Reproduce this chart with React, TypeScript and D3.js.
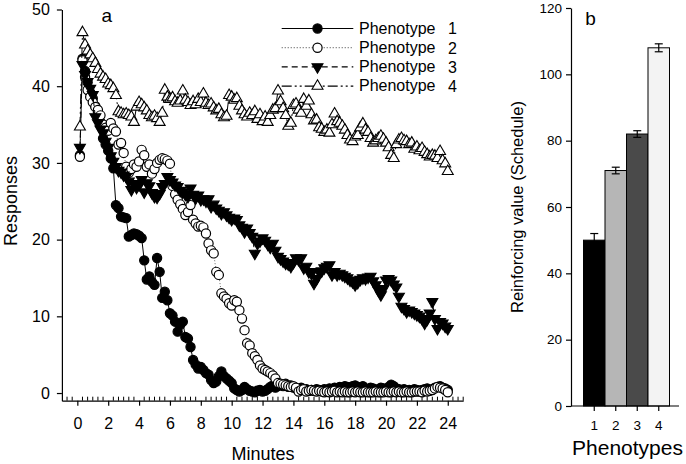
import React, { useEffect, useRef } from "react";
import * as d3 from "d3";

// responses per 10-s bin (first bin ends at 1/6 min, last at 24 min)
const binMinutes = 1 / 6;

const phenotype1 = [
  31.0, 43.6, 42.0, 40.5, 39.2, 38.4,
  37.4, 36.6, 35.3, 33.2, 32.4, 31.6,
  30.6, 29.3, 24.5, 24.1, 23.0, 22.9,
  22.8, 20.4, 20.6, 20.8, 20.7, 20.5,
  20.2, 17.3, 14.8, 15.2, 14.5, 14.1,
  17.6, 15.8, 12.4, 13.2, 12.1, 10.4,
  10.1, 9.3, 8.0, 8.9, 9.3, 7.3,
  7.1, 6.0, 4.3, 3.7, 3.2, 3.4,
  3.0, 2.6, 2.4, 1.7, 1.3, 1.5,
  2.2, 2.8, 2.2, 1.9, 1.6, 1.3,
  0.6, 0.4, 0.2, 0.4, 0.8, 0.5,
  0.3, 0.2, 0.1, 0.3, 0.4, 0.2,
  0.3, 0.5, 0.8, 1.0, 0.7, 0.9,
  1.1, 0.9, 1.2, 0.8, 1.0, 0.7,
  0.6, 0.5, 0.7, 0.4, 0.5, 0.3,
  0.4, 0.3, 0.5, 0.4, 0.3, 0.5,
  0.4, 0.6, 0.5, 0.7, 0.6, 0.8,
  0.7, 0.9, 0.8, 0.6, 0.9, 1.0,
  0.8, 0.7, 0.9, 0.6, 0.5, 0.7,
  0.6, 0.4, 0.5, 0.7, 0.6, 0.5,
  0.8, 1.1, 0.9, 0.6, 0.5, 0.4,
  0.5, 0.3, 0.4, 0.3, 0.5, 0.4,
  0.3, 0.4, 0.5, 0.6, 0.4, 0.5,
  0.7, 0.8, 0.9, 0.7, 0.6, 0.4,
];

const phenotype2 = [
  30.8, 43.4, 41.2, 39.5, 38.6, 37.9,
  37.3, 36.9, 36.2, 35.0, 34.6, 34.2,
  35.2, 34.5, 34.1, 32.4, 32.6, 31.3,
  29.5, 28.7, 29.2, 29.8, 29.5, 30.2,
  31.7, 31.0, 29.5, 29.8, 28.6, 29.2,
  30.0, 30.4, 30.6, 30.5, 30.3, 29.9,
  27.0, 25.9, 25.2, 24.6, 24.0, 23.2,
  23.6, 24.5, 22.6, 22.1, 21.7, 21.8,
  21.6, 20.8, 19.5, 18.6, 18.2, 15.8,
  15.4, 13.0, 12.6, 12.3, 11.7, 11.4,
  12.1, 11.9, 10.8, 9.7, 8.2, 6.5,
  6.2, 5.2, 4.8, 4.3, 3.6, 3.2,
  3.0, 2.8, 2.6, 2.3, 1.9, 1.3,
  1.2, 1.1, 1.0, 0.9, 0.8, 0.9,
  0.7, 0.2, 0.4, 0.5, 0.2, 0.3,
  0.4, 0.3, 0.2, 0.3, 0.2, 0.1,
  0.2, 0.1, 0.2, 0.3, 0.1, 0.2,
  0.1, 0.2, 0.1, 0.1, 0.2, 0.1,
  0.2, 0.1, 0.1, 0.2, 0.1, 0.1,
  0.1, 0.2, 0.1, 0.1, 0.1, 0.2,
  0.1, 0.1, 0.2, 0.1, 0.2, 0.1,
  0.1, 0.2, 0.1, 0.1, 0.2, 0.2,
  0.2, 0.1, 0.3, 0.2, 0.3, 0.4,
  0.6, 0.8, 0.7, 0.6, 0.4, 0.1,
];

const phenotype3 = [
  32.0, 42.8, 41.5, 40.6, 39.7, 38.9,
  36.0, 35.2, 34.4, 33.9, 32.8, 32.0,
  30.9, 30.2, 29.5, 29.0, 28.8, 28.4,
  28.2, 27.6, 26.5, 27.3, 26.8, 27.1,
  27.8, 26.2, 27.4, 27.0, 26.1, 25.6,
  25.5, 26.0, 26.9, 27.3, 28.2, 27.8,
  27.5, 27.1, 26.9, 26.4, 26.2, 25.9,
  25.6, 26.7, 25.9, 25.4, 25.8, 25.2,
  25.3, 25.0, 25.3, 24.3, 24.6, 24.1,
  23.8, 23.4, 23.6, 23.2, 22.9, 22.6,
  22.8, 22.6, 21.9, 21.6, 21.0, 21.5,
  20.9, 20.4, 18.2, 19.5, 19.8, 20.2,
  19.9, 19.4, 19.0, 19.5, 18.6, 17.8,
  17.5, 17.2, 16.9, 16.8, 16.5, 17.0,
  17.6, 17.4, 17.6, 16.3, 16.5, 15.8,
  15.6, 14.3, 14.9, 15.8, 15.9, 16.3,
  16.5, 16.7, 15.4, 15.8, 15.4, 15.6,
  15.4, 15.2, 15.0, 14.7, 14.5, 14.1,
  14.4, 14.8, 15.0, 14.9, 15.1, 15.2,
  14.6, 14.1, 13.4, 12.8, 13.6, 14.7,
  14.9, 14.7, 14.2, 13.8, 12.6, 11.3,
  11.0, 10.6, 10.8, 10.6, 10.4, 10.2,
  10.0, 9.7, 9.1, 9.6, 10.4, 11.9,
  9.7, 8.4, 9.3, 9.1, 8.7, 8.4,
];

const phenotype4 = [
  34.7, 47.0, 45.4, 44.6, 44.1, 43.6,
  43.0, 42.2, 41.6, 41.2, 40.9, 40.3,
  40.1, 39.7, 38.8, 36.7, 36.5, 36.3,
  36.4, 36.2, 36.0, 35.3, 37.3, 37.9,
  37.6, 37.2, 36.8, 36.2, 35.9, 36.1,
  35.8, 35.3, 36.5, 39.5, 38.6, 38.3,
  38.5, 38.0, 37.8, 38.1, 39.4, 38.2,
  37.9, 37.5, 38.0, 37.6, 38.3, 37.9,
  39.0, 37.8, 37.5, 37.7, 37.2, 36.8,
  37.0, 36.3, 35.9, 36.1, 38.8, 38.6,
  38.2, 38.4, 37.4, 36.8, 36.3, 36.0,
  36.5, 36.2, 36.7, 35.7, 36.3, 35.4,
  36.0, 35.3, 36.2, 36.9, 37.1, 39.4,
  38.0, 37.1, 36.2, 34.8, 35.2, 37.5,
  37.7, 36.9, 36.5, 38.3, 37.4, 38.1,
  36.3, 35.5, 35.6, 34.6, 34.4, 34.0,
  34.3, 33.9, 35.0, 36.4, 35.4, 35.2,
  34.8, 34.3, 33.6, 33.0, 32.8, 33.4,
  33.6, 34.6, 35.1, 34.3, 34.0, 33.2,
  32.6, 32.9, 33.2, 33.5, 33.1, 32.6,
  32.0, 31.0, 30.6, 32.4, 33.0, 33.2,
  32.9, 32.8, 32.4, 32.6, 31.8, 32.1,
  31.6, 31.9, 31.4, 31.1, 30.8, 31.0,
  30.9, 30.6, 31.5, 30.3, 29.9, 28.9,
];

const legendNumbers = ["1", "2", "3", "4"];
const minuteTicks = [0, 2, 4, 6, 8, 10, 12, 14, 16, 18, 20, 22, 24];
const responseTicks = [0, 10, 20, 30, 40, 50];

// panel b
const barCategories = ["1", "2", "3", "4"];
const barValues = [50, 71, 82, 108];
const barErrors = [2, 1, 1, 1.2];
const barColors = ["#000000", "#b6b6b6", "#4a4a4a", "#f3f3f3"];
const reinforcerTicks = [0, 20, 40, 60, 80, 100, 120];

const FONT = "'Liberation Sans', Arial, Helvetica, sans-serif";

type Marker = "circle" | "triangleUp" | "triangleDown";

interface SeriesStyle {
  values: number[];
  marker: Marker;
  fill: string;
  dash: string | null;
  lineColor: string;
}

const seriesStyles: SeriesStyle[] = [
  { values: phenotype1, marker: "circle", fill: "#000", dash: null, lineColor: "#000" },
  { values: phenotype2, marker: "circle", fill: "#fff", dash: "1,2", lineColor: "#666" },
  { values: phenotype3, marker: "triangleDown", fill: "#000", dash: "6,4", lineColor: "#000" },
  { values: phenotype4, marker: "triangleUp", fill: "#fff", dash: "10,3,2,3,2,3", lineColor: "#000" },
];

export default function App() {
  const svgRef = useRef<SVGSVGElement>(null);

  useEffect(() => {
    if (!svgRef.current) return;
    const svg = d3.select(svgRef.current);
    svg.selectAll("*").remove();

    // ---------- panel a ----------
    const x = d3.scaleLinear().domain([-1, 25]).range([61.9, 463.2]);
    const y = d3.scaleLinear().domain([-1, 50]).range([400.7, 9.5]);

    const gA = svg.append("g");

    const drawMarker = (
      g: d3.Selection<SVGGElement, unknown, null, undefined>,
      marker: Marker,
      cx: number,
      cy: number,
      fill: string
    ) => {
      if (marker === "circle") {
        g.append("circle")
          .attr("cx", cx)
          .attr("cy", cy)
          .attr("r", 4.6)
          .attr("fill", fill)
          .attr("stroke", "#000")
          .attr("stroke-width", 1.2);
      } else {
        const sym = d3.symbol().type(d3.symbolTriangle).size(52);
        g.append("path")
          .attr("d", sym()!)
          .attr(
            "transform",
            `translate(${cx},${cy})` + (marker === "triangleDown" ? " rotate(180)" : "")
          )
          .attr("fill", fill)
          .attr("stroke", "#000")
          .attr("stroke-width", 1.1);
      }
    };

    const line = d3
      .line<number>()
      .x((_, i) => x((i + 1) * binMinutes))
      .y((d) => y(d));

    seriesStyles.forEach((s) => {
      gA.append("path")
        .datum(s.values)
        .attr("fill", "none")
        .attr("stroke", s.lineColor)
        .attr("stroke-width", 1)
        .attr("stroke-dasharray", s.dash ?? null)
        .attr("d", line);
      const mg = gA.append("g");
      s.values.forEach((v, i) => {
        drawMarker(mg, s.marker, x((i + 1) * binMinutes), y(v), s.fill);
      });
    });

    // axes
    const yAxisA = gA
      .append("g")
      .attr("transform", `translate(${x(-1)},0)`)
      .call(
        d3
          .axisLeft(y)
          .tickValues(responseTicks)
          .tickSize(5)
          .tickSizeOuter(0)
          .tickPadding(7)
      );
    const xAxisA = gA
      .append("g")
      .attr("transform", `translate(0,${y(-1)})`)
      .call(
        d3
          .axisBottom(x)
          .tickValues(minuteTicks)
          .tickSize(5)
          .tickSizeOuter(0)
          .tickPadding(12)
      );
    [yAxisA, xAxisA].forEach((ax) => {
      ax.selectAll("text").attr("font-size", 16).attr("font-family", FONT).attr("fill", "#000");
      ax.selectAll("line, path").attr("stroke", "#000").attr("stroke-width", 1.2);
    });

    // minor ticks every 20 s, pointing up
    const minor = d3.range(-2, 76).filter((k) => k % 6 !== 0).map((k) => k / 3);
    gA.append("g")
      .selectAll("line")
      .data(minor)
      .join("line")
      .attr("x1", (d) => x(d))
      .attr("x2", (d) => x(d))
      .attr("y1", y(-1))
      .attr("y2", y(-1) - 4)
      .attr("stroke", "#000")
      .attr("stroke-width", 1);

    gA.append("text")
      .attr("x", 263)
      .attr("y", 460)
      .attr("text-anchor", "middle")
      .attr("font-size", 18)
      .attr("font-family", FONT)
      .text("Minutes");

    gA.append("text")
      .attr("transform", "translate(17,201) rotate(-90)")
      .attr("text-anchor", "middle")
      .attr("font-size", 18)
      .attr("font-family", FONT)
      .text("Responses");

    gA.append("text")
      .attr("x", 106.7)
      .attr("y", 22)
      .attr("text-anchor", "middle")
      .attr("font-size", 19)
      .attr("font-family", FONT)
      .text("a");

    // legend
    const legend = gA.append("g");
    seriesStyles.forEach((s, i) => {
      const ly = 28.5 + i * 19.2;
      legend
        .append("line")
        .attr("x1", 281.7)
        .attr("x2", 353.3)
        .attr("y1", ly)
        .attr("y2", ly)
        .attr("stroke", s.lineColor)
        .attr("stroke-width", 1.2)
        .attr("stroke-dasharray", s.dash ?? null);
      drawMarker(legend, s.marker, 317.5, ly, s.fill);
      legend
        .append("text")
        .attr("x", 359)
        .attr("y", ly + 5.3)
        .attr("font-size", 16)
        .attr("font-family", FONT)
        .text("Phenotype");
      legend
        .append("text")
        .attr("x", 448)
        .attr("y", ly + 5.8)
        .attr("font-size", 16)
        .attr("font-family", FONT)
        .text(legendNumbers[i]);
    });

    // ---------- panel b ----------
    const gB = svg.append("g");
    const xb = d3.scaleBand<string>().domain(barCategories).range([583.5, 669.5]).padding(0);
    const yb = d3.scaleLinear().domain([0, 120]).range([406, 8]);

    gB.selectAll("rect")
      .data(barValues)
      .join("rect")
      .attr("x", (_, i) => xb(barCategories[i])!)
      .attr("width", xb.bandwidth())
      .attr("y", (d) => yb(d))
      .attr("height", (d) => yb(0) - yb(d))
      .attr("fill", (_, i) => barColors[i])
      .attr("stroke", "#000")
      .attr("stroke-width", 1);

    barValues.forEach((v, i) => {
      const cx = xb(barCategories[i])! + xb.bandwidth() / 2;
      const eg = gB.append("g").attr("stroke", "#000").attr("stroke-width", 1.2);
      eg.append("line").attr("x1", cx).attr("x2", cx).attr("y1", yb(v - barErrors[i])).attr("y2", yb(v + barErrors[i]));
      [v - barErrors[i], v + barErrors[i]].forEach((e) => {
        eg.append("line").attr("x1", cx - 4).attr("x2", cx + 4).attr("y1", yb(e)).attr("y2", yb(e));
      });
    });

    const yAxisB = gB
      .append("g")
      .attr("transform", "translate(571,0)")
      .call(
        d3
          .axisLeft(yb)
          .tickValues(reinforcerTicks)
          .tickSize(5)
          .tickSizeOuter(0)
          .tickPadding(4)
      );
    yAxisB.selectAll("text").attr("font-size", 13.5).attr("font-family", FONT).attr("fill", "#000");
    yAxisB.selectAll("line, path").attr("stroke", "#000").attr("stroke-width", 1.2);

    gB.append("line")
      .attr("x1", 571)
      .attr("x2", 679)
      .attr("y1", yb(0))
      .attr("y2", yb(0))
      .attr("stroke", "#000")
      .attr("stroke-width", 1.2);

    barCategories.forEach((c) => {
      const cx = xb(c)! + xb.bandwidth() / 2;
      gB.append("line")
        .attr("x1", cx)
        .attr("x2", cx)
        .attr("y1", yb(0))
        .attr("y2", yb(0) + 5)
        .attr("stroke", "#000")
        .attr("stroke-width", 1.2);
      gB.append("text")
        .attr("x", cx)
        .attr("y", 430)
        .attr("text-anchor", "middle")
        .attr("font-size", 13.5)
        .attr("font-family", FONT)
        .text(c);
    });

    gB.append("text")
      .attr("x", 627.5)
      .attr("y", 455)
      .attr("text-anchor", "middle")
      .attr("font-size", 21)
      .attr("font-family", FONT)
      .text("Phenotypes");

    gB.append("text")
      .attr("transform", "translate(523,207) rotate(-90)")
      .attr("text-anchor", "middle")
      .attr("font-size", 16.5)
      .attr("font-family", FONT)
      .text("Reinforcing value (Schedule)");

    gB.append("text")
      .attr("x", 590.5)
      .attr("y", 25)
      .attr("text-anchor", "middle")
      .attr("font-size", 19)
      .attr("font-family", FONT)
      .text("b");
  }, []);

  return (
    <div>
      <style>{`body{margin:0;background:#fff}`}</style>
      <svg ref={svgRef} width={686} height={464} style={{ display: "block" }} />
    </div>
  );
}
